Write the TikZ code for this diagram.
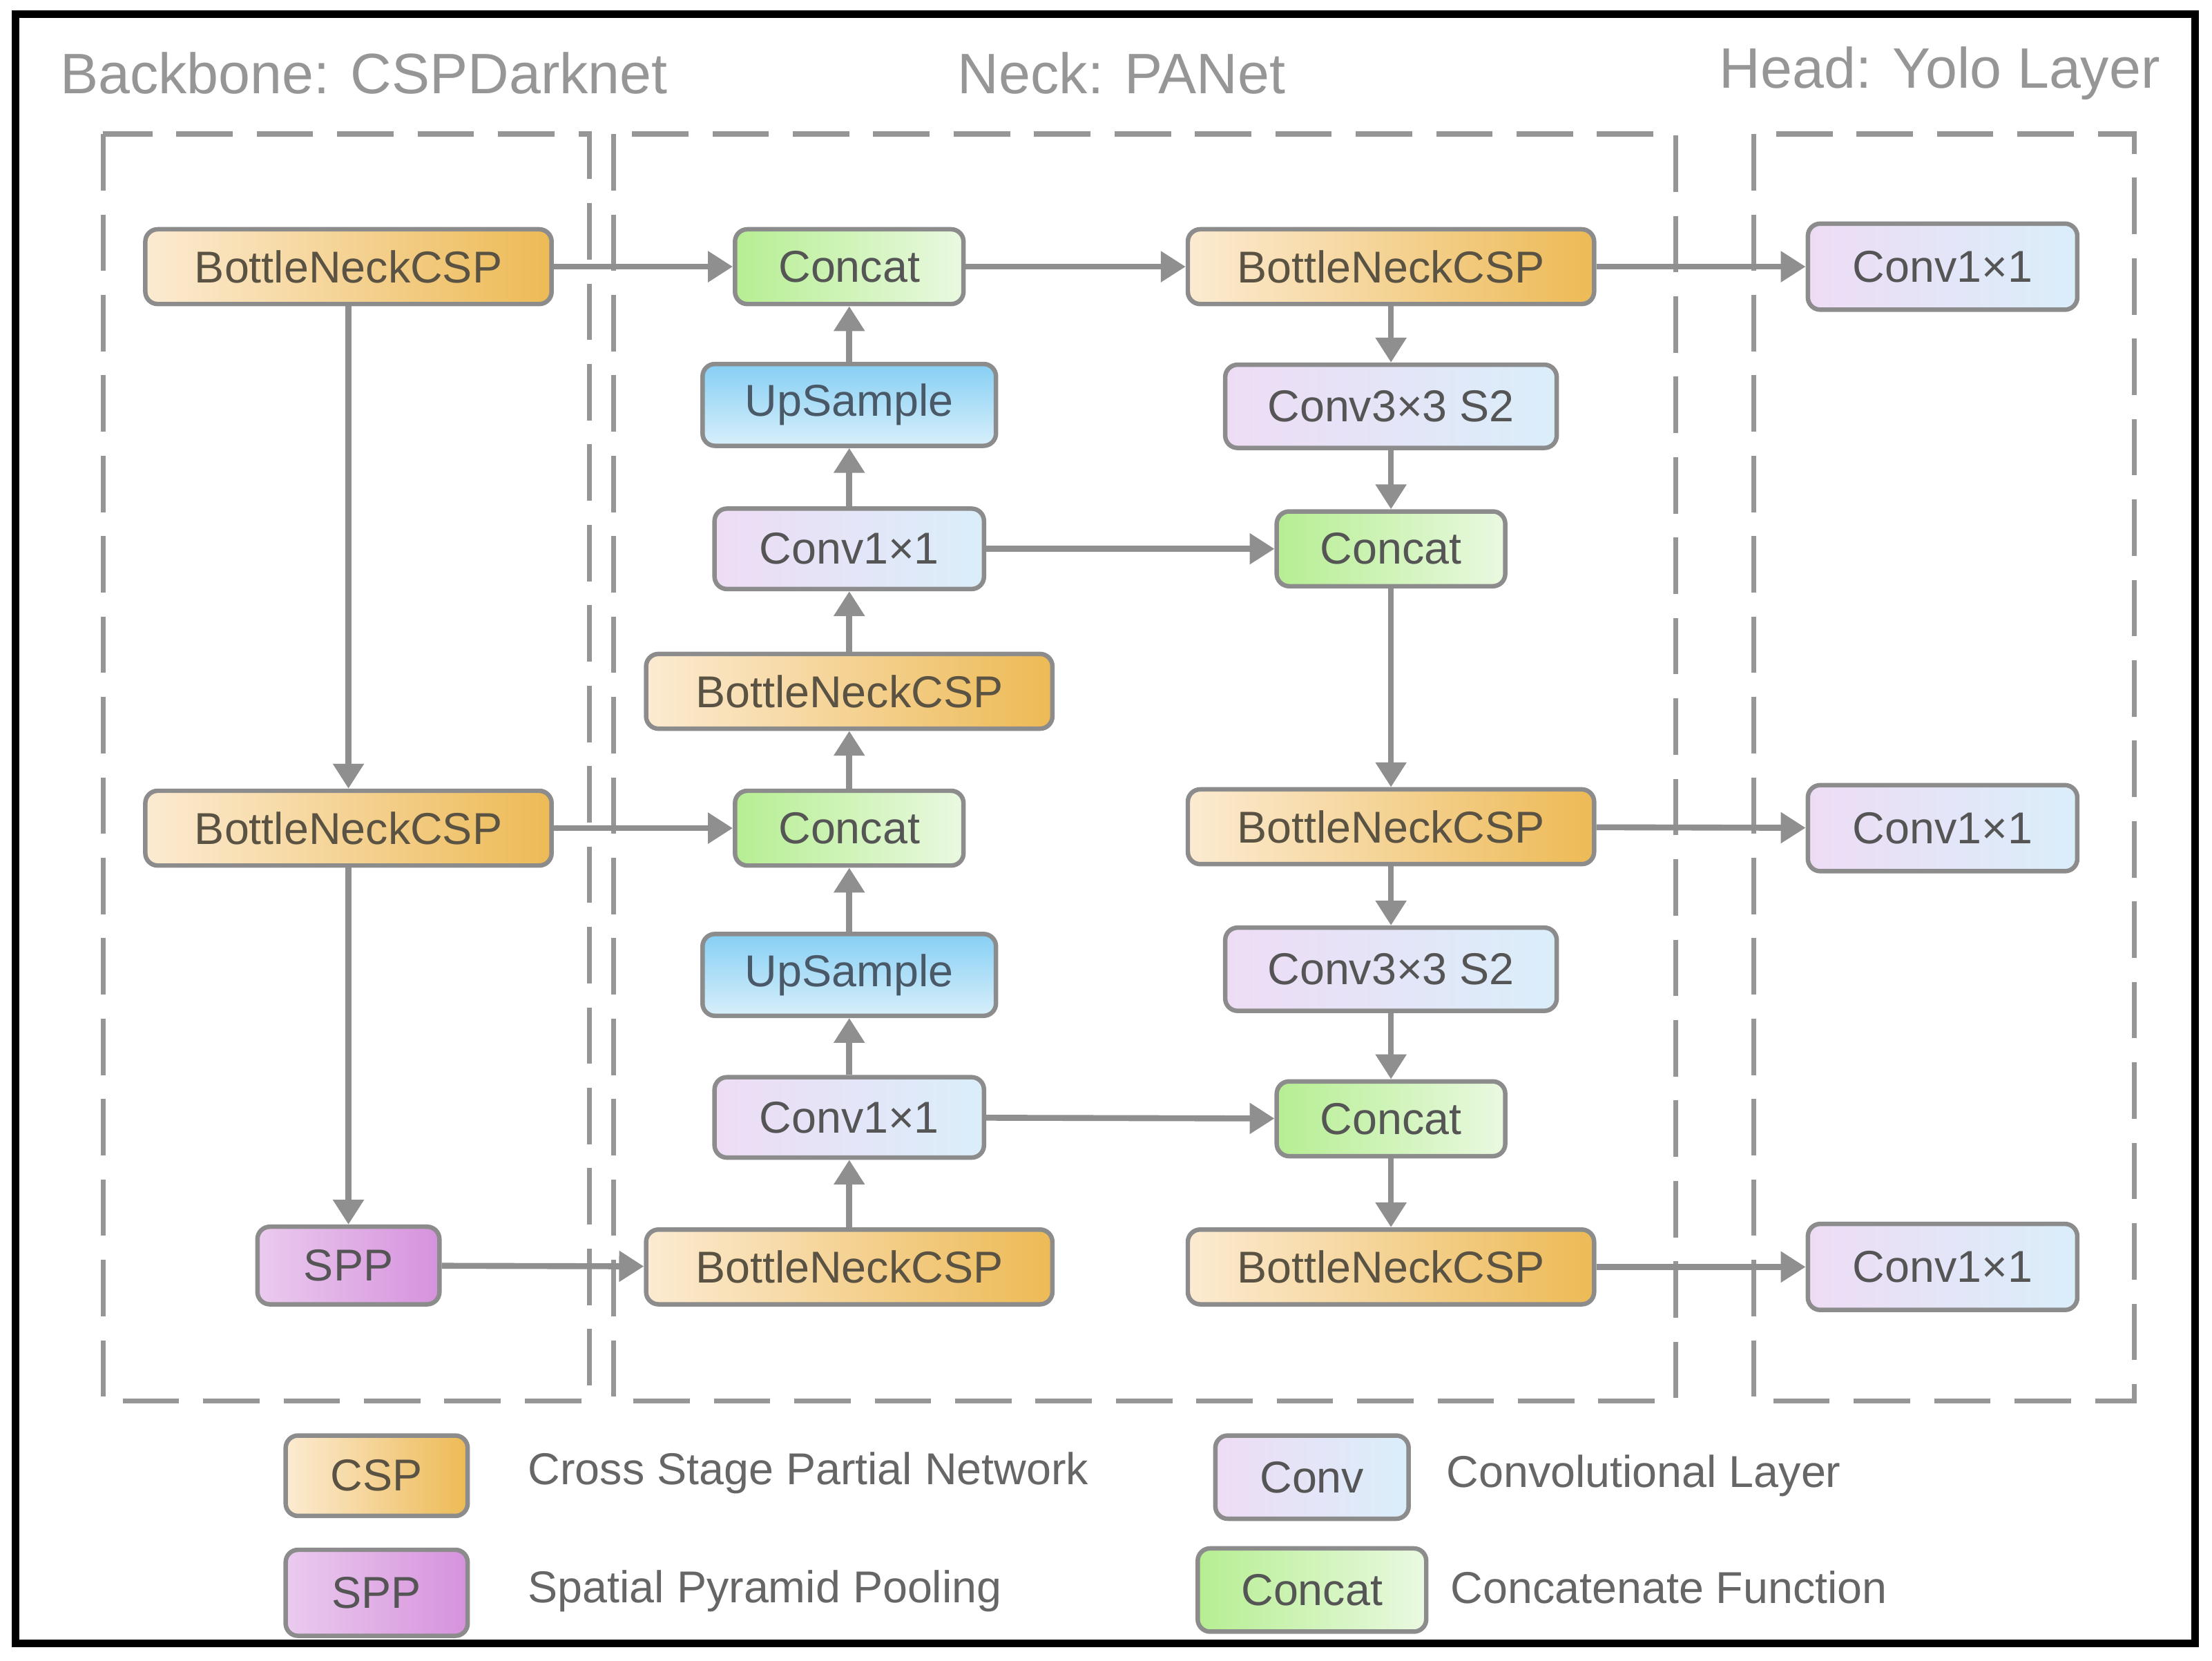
\documentclass[tikz,border=0pt]{standalone}
\usepackage{fontspec}
\setmainfont{Liberation Sans}
\usepackage{xcolor}
\usetikzlibrary{arrows.meta}

\definecolor{cspA}{HTML}{FCEBD2}
\definecolor{cspB}{HTML}{EDBA55}
\definecolor{catA}{HTML}{B6EE92}
\definecolor{catB}{HTML}{EAF9E1}
\definecolor{upA}{HTML}{86CFF4}
\definecolor{upB}{HTML}{D8EFFB}
\definecolor{convA}{HTML}{EEDCF5}
\definecolor{convB}{HTML}{DAEEFA}
\definecolor{sppA}{HTML}{EACBEE}
\definecolor{sppB}{HTML}{D692DD}
\definecolor{boxgray}{HTML}{8C8C8C}
\definecolor{arrgray}{HTML}{8F8F8F}
\definecolor{dashgray}{HTML}{969696}
\definecolor{txtgray}{HTML}{555555}
\definecolor{csptxt}{HTML}{5A5242}
\definecolor{uptxt}{HTML}{4A5968}

\begin{document}
\begin{tikzpicture}[
    box/.style={draw=boxgray, line width=1.8pt, rounded corners=5pt, text=txtgray,
        font=\fontsize{18}{20}\selectfont, inner sep=0pt, minimum height=1.06cm},
    csp/.style={box, left color=cspA, right color=cspB, minimum width=5.76cm, text=csptxt},
    concat/.style={box, left color=catA, right color=catB, minimum width=3.24cm},
    upsample/.style={box, top color=upA, bottom color=upB, minimum width=4.16cm, minimum height=1.16cm, text=uptxt},
    conv/.style={box, left color=convA, right color=convB, minimum width=3.82cm, minimum height=1.14cm},
    convs/.style={conv, minimum width=4.7cm, minimum height=1.18cm},
    spp/.style={box, left color=sppA, right color=sppB, minimum width=2.58cm, minimum height=1.1cm},
    flow/.style={draw=arrgray, line width=2.4pt, -{Triangle[length=10pt,width=12pt]}},
    dashedge/.style={draw=dashgray, line width=2pt, dash pattern=on 0.8cm off 0.34cm},
    title/.style={text=dashgray, font=\fontsize{23}{26}\selectfont},
    legendtext/.style={anchor=west, text=txtgray!90, font=\fontsize{18}{20}\selectfont, inner sep=0pt}
]
\useasboundingbox (0,0) rectangle (31.36,-23.54);
\draw[line width=3pt] (0.22,-0.2) rectangle (31.12,-23.3);

\node[title] (tbb) at (5.16,-1.04) {Backbone: CSPDarknet};
\node[title] (tneck) at (15.9,-1.04) {Neck: PANet};
\node[title] (thead) at (27.5,-1.04) {Head: Yolo Layer};

\draw[dashedge] (1.46,-1.9) rectangle (8.36,-19.86);
\draw[dashedge] (8.7,-1.9) rectangle (23.76,-19.86);
\draw[dashedge] (24.86,-1.9) rectangle (30.26,-19.86);

\node[csp] (b1) at (4.94,-3.78) {BottleNeckCSP};
\node[csp] (b2) at (4.94,-11.74) {BottleNeckCSP};
\node[spp] (spp) at (4.94,-17.94) {SPP};

\node[concat] (cat1) at (12.04,-3.78) {Concat};
\node[upsample] (up1) at (12.04,-5.74) {UpSample};
\node[conv] (cv1) at (12.04,-7.78) {Conv1×1};
\node[csp] (bn1) at (12.04,-9.8) {BottleNeckCSP};
\node[concat] (cat2) at (12.04,-11.74) {Concat};
\node[upsample] (up2) at (12.04,-13.82) {UpSample};
\node[conv] (cv2) at (12.04,-15.84) {Conv1×1};
\node[csp] (bn2) at (12.04,-17.96) {BottleNeckCSP};

\node[csp] (r1) at (19.72,-3.78) {BottleNeckCSP};
\node[convs] (r2) at (19.72,-5.76) {Conv3×3 S2};
\node[concat] (r3) at (19.72,-7.78) {Concat};
\node[csp] (r4) at (19.72,-11.72) {BottleNeckCSP};
\node[convs] (r5) at (19.72,-13.74) {Conv3×3 S2};
\node[concat] (r6) at (19.72,-15.86) {Concat};
\node[csp] (r7) at (19.72,-17.96) {BottleNeckCSP};

\node[conv, minimum height=1.22cm] (h1) at (27.54,-3.78) {Conv1×1};
\node[conv, minimum height=1.22cm] (h2) at (27.54,-11.74) {Conv1×1};
\node[conv, minimum height=1.22cm] (h3) at (27.54,-17.96) {Conv1×1};

\draw[flow] (b1) -- (cat1);
\draw[flow] (cat1) -- (r1);
\draw[flow] (r1) -- (h1);
\draw[flow] (b1) -- (b2);
\draw[flow] (b2) -- (cat2);
\draw[flow] (b2) -- (spp);
\draw[flow] (spp) -- (bn2);
\draw[flow] (bn2) -- (cv2);
\draw[flow] (cv2) -- (up2);
\draw[flow] (up2) -- (cat2);
\draw[flow] (cat2) -- (bn1);
\draw[flow] (bn1) -- (cv1);
\draw[flow] (cv1) -- (up1);
\draw[flow] (up1) -- (cat1);
\draw[flow] (cv1) -- (r3);
\draw[flow] (cv2) -- (r6);
\draw[flow] (r1) -- (r2);
\draw[flow] (r2) -- (r3);
\draw[flow] (r3) -- (r4);
\draw[flow] (r4) -- (r5);
\draw[flow] (r5) -- (r6);
\draw[flow] (r6) -- (r7);
\draw[flow] (r4) -- (h2);
\draw[flow] (r7) -- (h3);

\node[csp, minimum width=2.58cm, minimum height=1.14cm] (kcsp) at (5.34,-20.92) {CSP};
\node[spp, minimum height=1.22cm] (kspp) at (5.34,-22.58) {SPP};
\node[conv, minimum width=2.74cm, minimum height=1.18cm] (kconv) at (18.6,-20.94) {Conv};
\node[concat, minimum height=1.18cm] (kcat) at (18.6,-22.54) {Concat};
\node[legendtext] (lcsp) at (7.48,-20.88) {Cross Stage Partial Network};
\node[legendtext] (lspp) at (7.48,-22.56) {Spatial Pyramid Pooling};
\node[legendtext] (lconv) at (20.5,-20.92) {Convolutional Layer};
\node[legendtext] (lcat) at (20.56,-22.5) {Concatenate Function};
\end{tikzpicture}
\end{document}
